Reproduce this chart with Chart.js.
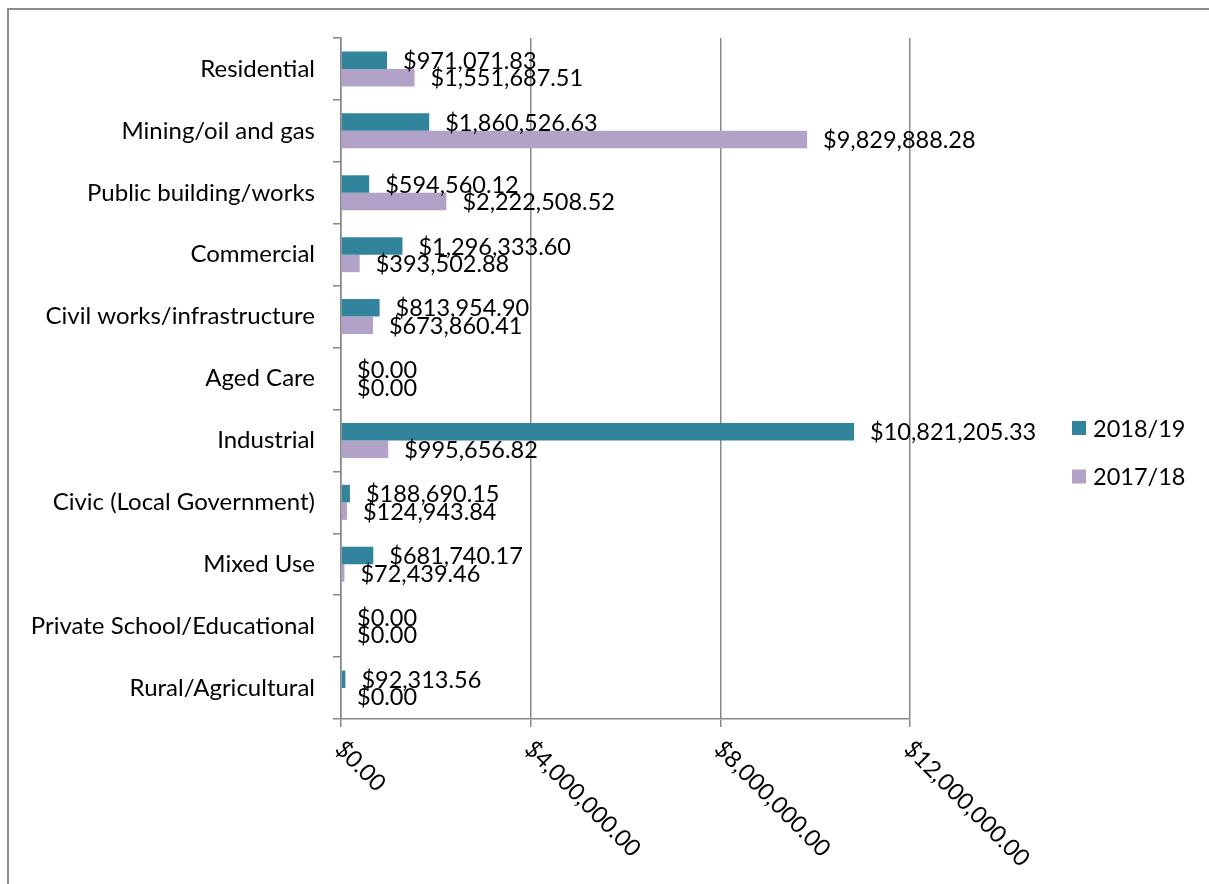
<!DOCTYPE html>
<html>
<head>
<meta charset="utf-8">
<script src="https://cdn.jsdelivr.net/npm/chart.js@4"></script>
<style>
  html, body { margin: 0; padding: 0; background: #fff; }
  canvas { display: block; }
</style>
</head>
<body>
<canvas id="chart" width="1209" height="884"></canvas>
<script>
// dane z wykresu
const categories = ['Residential', 'Mining/oil and gas', 'Public building/works', 'Commercial',
    'Civil works/infrastructure', 'Aged Care', 'Industrial', 'Civic (Local Government)',
    'Mixed Use', 'Private School/Educational', 'Rural/Agricultural'];
const values1819 = [971071.83, 1860526.63, 594560.12, 1296333.60, 813954.90, 0,
    10821205.33, 188690.15, 681740.17, 0, 92313.56];
const values1718 = [1551687.51, 9829888.28, 2222508.52, 393502.88, 673860.41, 0,
    995656.82, 124943.84, 72439.46, 0, 0];
const seriesNames = ['2018/19', '2017/18'];
const xTicks = [0, 4000000, 8000000, 12000000];

const FONT = 'Lato, "Liberation Sans", sans-serif';
const FSIZE = 23.5;
const GRAY = '#878787';
const colors = ['#31849B', '#B3A2C7'];

function money(v) {
    return '$' + v.toLocaleString('en-US', { minimumFractionDigits: 2, maximumFractionDigits: 2 });
}

// ramka + tlo
const framePlugin = {
    id: 'frame',
    beforeDraw(chart) {
        const c = chart.ctx;
        c.save();
        c.fillStyle = '#fff';
        c.fillRect(0, 0, chart.width, chart.height);
        c.strokeStyle = '#8c8c8c';
        c.lineWidth = 2;
        c.strokeRect(8, 9, 1400, 1000);
        c.restore();
    }
};

// etykiety wartosci przy slupkach
const labelPlugin = {
    id: 'valueLabels',
    afterDatasetsDraw(chart) {
        const c = chart.ctx;
        c.save();
        c.font = FSIZE + 'px ' + FONT;
        c.fillStyle = '#000';
        c.textAlign = 'left';
        c.textBaseline = 'middle';
        chart.data.datasets.forEach((ds, i) => {
            chart.getDatasetMeta(i).data.forEach((bar, j) => {
                c.fillText(money(ds.data[j]), bar.x + 16, bar.y + 1);
            });
        });
        c.restore();
    }
};

// obrocone etykiety osi X (w prawo w dol)
const xTickPlugin = {
    id: 'xTicks',
    afterDraw(chart) {
        const c = chart.ctx;
        const sx = chart.scales.x;
        c.save();
        c.font = FSIZE + 'px ' + FONT;
        c.fillStyle = '#000';
        c.textAlign = 'left';
        c.textBaseline = 'middle';
        xTicks.forEach(v => {
            const px = sx.getPixelForValue(v);
            c.save();
            c.translate(px - 2, sx.top + 26);
            c.rotate(Math.PI / 4);
            c.fillText(money(v), 0, 0);
            c.restore();
        });
        c.restore();
    }
};

// legenda po prawej
const legendPlugin = {
    id: 'sideLegend',
    afterDraw(chart) {
        const c = chart.ctx;
        c.save();
        c.font = FSIZE + 'px ' + FONT;
        c.textAlign = 'left';
        c.textBaseline = 'middle';
        seriesNames.forEach((name, i) => {
            const y = 428 + i * 48.5;
            c.fillStyle = colors[i];
            c.fillRect(1072, y - 7, 14, 14);
            c.fillStyle = '#000';
            c.fillText(name, 1093, y + 1);
        });
        c.restore();
    }
};

const ctx = document.getElementById('chart').getContext('2d');
const myChart = new Chart(ctx, {
    type: 'bar',
    data: {
        labels: categories,
        datasets: [{
            label: seriesNames[0],
            data: values1819,
            backgroundColor: colors[0]
        }, {
            label: seriesNames[1],
            data: values1718,
            backgroundColor: colors[1]
        }]
    },
    options: {
        indexAxis: 'y',
        responsive: false,
        animation: false,
        devicePixelRatio: 1,
        categoryPercentage: 0.565,
        barPercentage: 1,
        layout: { padding: { top: 38, left: 0, right: 299, bottom: 0 } },
        plugins: {
            legend: { display: false },
            tooltip: { enabled: false }
        },
        scales: {
            x: {
                min: 0,
                max: 12000000,
                afterFit: s => { s.height = 165; },
                ticks: { display: false, stepSize: 4000000 },
                grid: { color: GRAY, lineWidth: 1.5, tickLength: 8 },
                border: { color: GRAY, width: 1.5 }
            },
            y: {
                afterFit: s => { s.width = 341; },
                ticks: {
                    color: '#000',
                    padding: 18,
                    font: { family: FONT, size: 24 }
                },
                grid: { drawOnChartArea: false, color: GRAY, lineWidth: 1.5, tickLength: 8 },
                border: { color: GRAY, width: 1.5 }
            }
        }
    },
    plugins: [framePlugin, labelPlugin, xTickPlugin, legendPlugin]
});
</script>
</body>
</html>
